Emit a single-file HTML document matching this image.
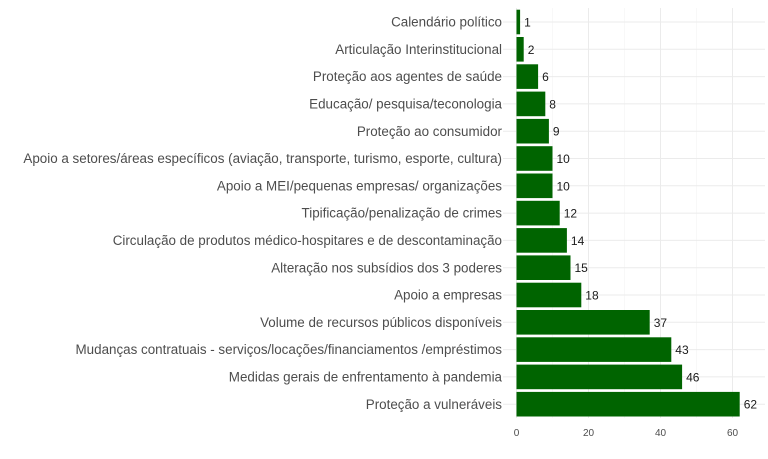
<!DOCTYPE html>
<html><head><meta charset="utf-8"><style>body{margin:0;background:#fff}svg{display:block}</style></head><body>
<svg width="768" height="459" xmlns="http://www.w3.org/2000/svg" font-family="Liberation Sans, sans-serif">
<g id="g"></g>
</svg>
<script>
(function(){
const d=[["Calendário político",1],["Articulação Interinstitucional",2],["Proteção aos agentes de saúde",6],["Educação/ pesquisa/teconologia",8],["Proteção ao consumidor",9],["Apoio a setores/áreas específicos (aviação, transporte, turismo, esporte, cultura)",10],["Apoio a MEI/pequenas empresas/ organizações",10],["Tipificação/penalização de crimes",12],["Circulação de produtos médico-hospitares e de descontaminação",14],["Alteração nos subsídios dos 3 poderes",15],["Apoio a empresas",18],["Volume de recursos públicos disponíveis",37],["Mudanças contratuais - serviços/locações/financiamentos /empréstimos",43],["Medidas gerais de enfrentamento à pandemia",46],["Proteção a vulneráveis",62]];
var x0=516.5,k=3.6,pt=8,pb=418,L=503,R=765,s='';
for(var v=10;v<=70;v+=20){var x=x0+v*k;if(x<R)s+='<line x1="'+x+'" y1="'+pt+'" x2="'+x+'" y2="'+pb+'" stroke="#f3f3f3" stroke-width="0.6"/>';}
for(var v=0;v<=60;v+=20){var x=x0+v*k;s+='<line x1="'+x+'" y1="'+pt+'" x2="'+x+'" y2="'+pb+'" stroke="#ebebeb" stroke-width="1"/><text x="'+x+'" y="436" font-size="10" fill="#4d4d4d" text-anchor="middle">'+v+'</text>';}
d.forEach(function(r,i){var y=22+i*27.3;s+='<line x1="'+L+'" y1="'+y+'" x2="'+R+'" y2="'+y+'" stroke="#ebebeb"/>';});
d.forEach(function(r,i){var y=22+i*27.3,w=r[1]*k;s+='<rect x="'+x0+'" y="'+(y-12.3)+'" width="'+w+'" height="24.6" fill="#006400"/><text x="'+(x0+w+4)+'" y="'+(y+4.5)+'" font-size="12" fill="#1a1a1a">'+r[1]+'</text><text x="502" y="'+(y+4.6)+'" font-size="13.4" fill="#4d4d4d" text-anchor="end">'+r[0]+'</text>';});
document.getElementById('g').innerHTML=s;
})();
</script>
</body></html>
